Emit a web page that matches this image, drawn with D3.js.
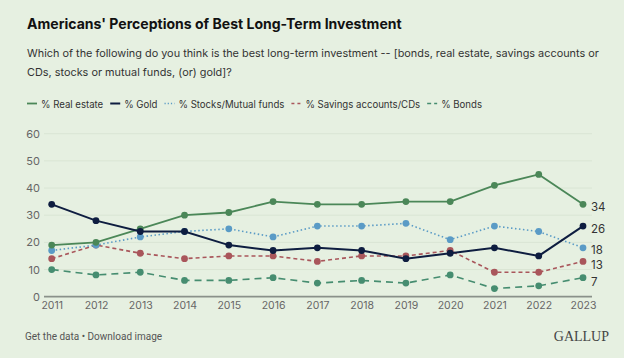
<!DOCTYPE html>
<html><head><meta charset="utf-8">
<script src="https://cdn.jsdelivr.net/npm/d3@7/dist/d3.min.js"></script>
<style>
html,body{margin:0;padding:0;background:#e6f0e1;}
svg{display:block;font-family:Inter,"Noto Sans",sans-serif;}
</style></head><body>
<svg id="c" width="624" height="358"></svg>
<script>
const years = [2011,2012,2013,2014,2015,2016,2017,2018,2019,2020,2021,2022,2023];
const realEstate = [19,20,25,30,31,35,34,34,35,35,41,45,34];
const gold       = [34,28,24,24,19,17,18,17,14,16,18,15,26];
const stocks     = [17,19,22,24,25,22,26,26,27,21,26,24,18];
const savings    = [14,19,16,14,15,15,13,15,15,17,9,9,13];
const bonds      = [10,8,9,6,6,7,5,6,5,8,3,4,7];
const yTicks = [0,10,20,30,40,50,60];
const seriesNames = ["% Real estate","% Gold","% Stocks/Mutual funds","% Savings accounts/CDs","% Bonds"];

const series = [
  {name:seriesNames[0], values:realEstate, color:"#4b8758", dash:null, w:1.8},
  {name:seriesNames[1], values:gold, color:"#0e1d40", dash:null, w:2},
  {name:seriesNames[2], values:stocks, color:"#5a9bc6", dash:"1.5,2.5", w:1.6},
  {name:seriesNames[3], values:savings, color:"#a9565b", dash:"4,3", w:1.6},
  {name:seriesNames[4], values:bonds, color:"#468d70", dash:"7,5", w:1.6}
];

const svg = d3.select("#c");
svg.append("rect").attr("width",624).attr("height",358).attr("fill","#e6f0e1");

function fitW(sel,target){const w=sel.node().getComputedTextLength();const fs=+sel.attr("font-size");sel.attr("font-size",fs*target/w);}

// Title
const title = svg.append("text").attr("x",27).attr("y",29)
  .attr("font-size",16.5).attr("font-weight",700).attr("fill","#111")
  .text("Americans' Perceptions of Best Long-Term Investment");
fitW(title,375);
const s1 = svg.append("text").attr("x",27).attr("y",56.5).attr("font-size",13.5).attr("fill","#333")
  .text("Which of the following do you think is the best long-term investment -- [bonds, real estate, savings accounts or");
fitW(s1,573);
svg.append("text").attr("x",27).attr("y",75.5).attr("font-size",s1.attr("font-size")).attr("fill","#333")
  .text("CDs, stocks or mutual funds, (or) gold]?");

// Legend: common font size, items laid out in sequence
const legendDash = [null,null,"1.2,2","3,3","4,3"];
const probe = svg.append("text").attr("font-size",11).text(seriesNames[2]);
fitW(probe,106);
const legendFs = +probe.attr("font-size");
probe.remove();
let lx = 27;
series.forEach((s,i)=>{
  const g = svg.append("g");
  g.append("line").attr("x1",lx).attr("x2",lx+10).attr("y1",103.5).attr("y2",103.5)
    .attr("stroke",s.color).attr("stroke-width",s.w).attr("stroke-dasharray",legendDash[i]);
  const t = g.append("text").attr("x",lx+14).attr("y",107.5).attr("font-size",legendFs).attr("fill","#333").text(s.name);
  lx = lx + 14 + t.node().getComputedTextLength() + 7;
});

// Scales
const x = d3.scaleLinear().domain([2011,2023]).range([51.7,583]);
const y = d3.scaleLinear().domain([0,60]).range([296.7,133.7]);

// Grid
svg.append("g").selectAll("line").data(yTicks.filter(d=>d>0)).join("line")
  .attr("x1",44).attr("x2",592).attr("y1",d=>y(d)).attr("y2",d=>y(d))
  .attr("stroke","#d9e5d4").attr("stroke-width",1);

// Y axis labels
const yAxis = d3.axisLeft(y).tickValues(yTicks).tickSize(0).tickPadding(0);
const ya = svg.append("g").attr("transform","translate(40,0)").call(yAxis);
ya.select(".domain").remove();
ya.selectAll("text").attr("font-size",11).attr("fill","#666").attr("font-family","Inter,'Noto Sans',sans-serif");

// Baseline
svg.append("line").attr("x1",44).attr("x2",592).attr("y1",y(0)).attr("y2",y(0))
  .attr("stroke","#8a918a").attr("stroke-width",1.8);

// X axis
const xAxis = d3.axisBottom(x).tickValues(years).tickFormat(d3.format("d")).tickSize(0).tickPadding(0);
const xa = svg.append("g").attr("transform","translate(0,302)").call(xAxis);
xa.select(".domain").remove();
xa.selectAll("text").attr("font-size",10.5).attr("fill","#666").attr("dy","0.71em").attr("font-family","Inter,'Noto Sans',sans-serif");

// Lines (draw bottom series first so gold on top)
const line = d3.line().x((d,i)=>x(years[i])).y(d=>y(d));
const order = [4,3,2,0,1];
order.forEach(i=>{
  const s = series[i];
  svg.append("path").attr("d",line(s.values)).attr("fill","none")
    .attr("stroke",s.color).attr("stroke-width",s.w).attr("stroke-dasharray",s.dash);
  svg.append("g").selectAll("circle").data(s.values).join("circle")
    .attr("cx",(d,j)=>x(years[j])).attr("cy",d=>y(d)).attr("r",3.4).attr("fill",s.color);
});

// End labels
const endOffsets = [3,3,2,4,4];
series.forEach((s,i)=>{
  const v = s.values[s.values.length-1];
  svg.append("text").attr("x",591).attr("y",y(v)+endOffsets[i]).attr("dy","0.35em")
    .attr("font-size",11.5).attr("fill","#333").text(v);
});

// Footer
svg.append("text").attr("x",25).attr("y",340).attr("font-size",10).attr("fill","#555")
  .attr("font-family","Roboto,Inter,sans-serif").text("Get the data \u2022 Download image");
svg.append("text").attr("x",609).attr("y",341).attr("text-anchor","end")
  .attr("font-family","'Liberation Serif','DejaVu Serif',serif").attr("font-size",14).attr("fill","#444").text("GALLUP");
</script>
</body></html>
